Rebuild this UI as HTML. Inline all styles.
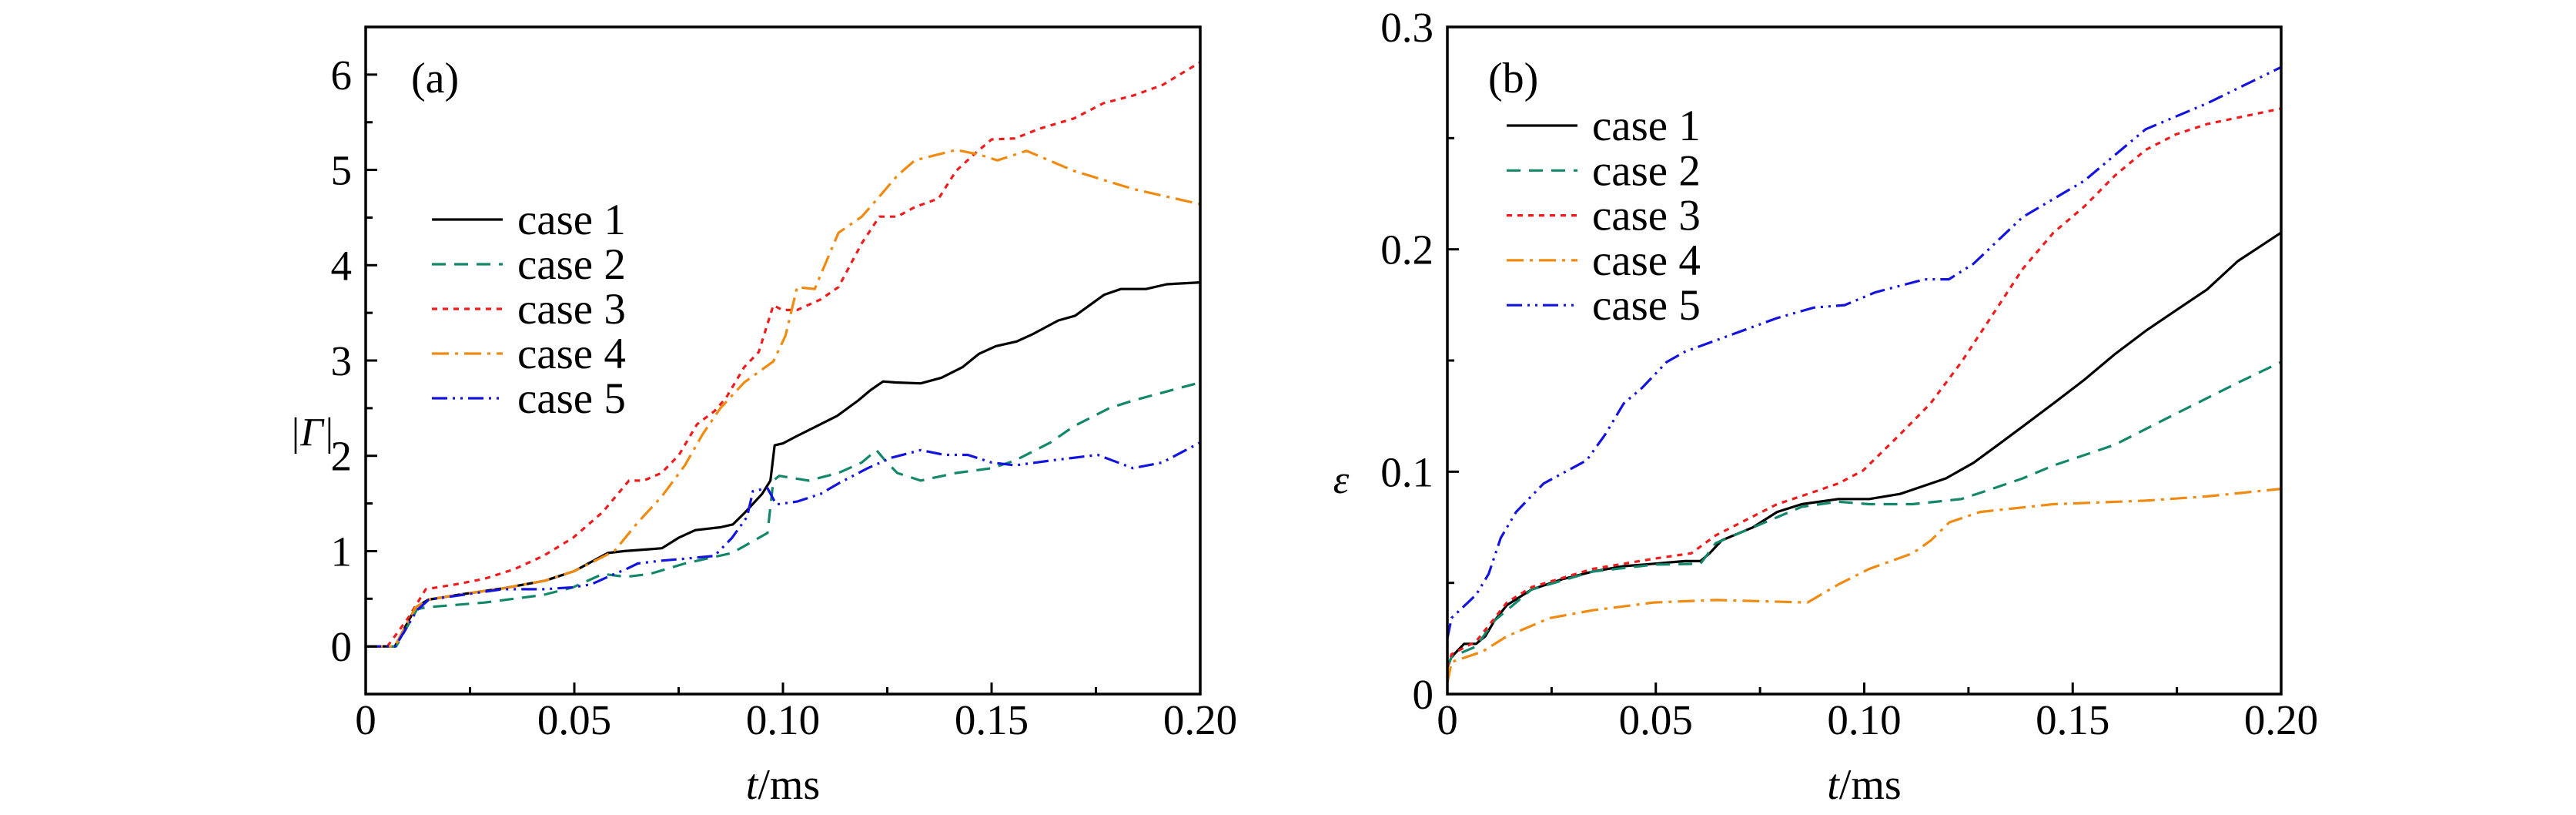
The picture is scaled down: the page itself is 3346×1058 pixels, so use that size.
<!DOCTYPE html>
<html><head><meta charset="utf-8"><style>
html,body{margin:0;padding:0;background:#fff;}
svg text{font-family:"Liberation Serif",serif;fill:#000;}
</style></head><body>
<svg id="chart" width="3346" height="1053" viewBox="0 0 3346 1053" xmlns="http://www.w3.org/2000/svg"></svg>
<script>
// ---- Panel (a) data: |Gamma| vs t ----
const a_case1_t=[0,.007,.012,.015,.022,.033,.043,.05,.058,.062,.068,.071,.075,.079,.085,.088,.091,.095,.097,.098,.1,.103,.108,.113,.118,.121,.124,.127,.133,.138,.143,.147,.151,.156,.16,.166,.17,.177,.181,.187,.192,.2];
const a_case1_v=[0,0,.41,.49,.54,.61,.69,.79,.98,1.0,1.02,1.03,1.14,1.22,1.25,1.28,1.41,1.6,1.74,2.11,2.13,2.2,2.31,2.42,2.58,2.69,2.78,2.77,2.76,2.82,2.93,3.07,3.15,3.2,3.28,3.42,3.47,3.69,3.75,3.75,3.8,3.82];
const a_case2_t=[0,.0073,.0123,.0144,.0285,.0426,.0497,.0568,.0624,.0681,.0765,.0878,.0963,.0977,.0991,.1062,.1133,.1189,.1224,.1245,.1274,.133,.1415,.15,.1556,.1641,.1697,.1782,.1839,.2];
const a_case2_v=[0,0,.39,.41,.46,.54,.62,.76,.73,.76,.87,.98,1.19,1.74,1.79,1.74,1.82,1.93,2.06,1.95,1.82,1.74,1.82,1.87,1.95,2.14,2.31,2.5,2.58,2.77];
const a_case3_t=[0,.0052,.0102,.0144,.0215,.0285,.0356,.0426,.0497,.0568,.061,.0631,.0666,.0709,.0751,.0794,.0836,.0864,.0907,.0942,.0977,.0998,.1034,.109,.1133,.1189,.1231,.1274,.1316,.1373,.1415,.1457,.15,.1556,.1613,.1697,.1768,.1839,.1909,.2];
const a_case3_v=[0,0,.3,.6,.65,.71,.81,.95,1.14,1.41,1.63,1.74,1.74,1.82,2.01,2.33,2.47,2.61,2.93,3.09,3.58,3.53,3.53,3.64,3.77,4.23,4.51,4.51,4.61,4.7,4.99,5.16,5.32,5.33,5.43,5.54,5.7,5.78,5.89,6.13];
const a_case4_t=[0,.007,.012,.015,.022,.033,.043,.05,.0596,.0652,.0709,.0765,.0808,.085,.0907,.0977,.1006,.1034,.1076,.1133,.1189,.1231,.1274,.1316,.1415,.1471,.1514,.1584,.1697,.1839,.2];
const a_case4_v=[0,0,.41,.49,.54,.61,.69,.79,1.0,1.3,1.57,1.9,2.23,2.5,2.77,2.99,3.26,3.77,3.75,4.34,4.51,4.72,4.94,5.1,5.21,5.16,5.1,5.2,4.99,4.8,4.64];
const a_case5_t=[0,.0071,.0123,.0151,.0328,.0426,.0497,.054,.0596,.0624,.0652,.0709,.0765,.0836,.0878,.0914,.0928,.0963,.0984,.1034,.109,.1133,.1203,.126,.133,.1387,.1443,.15,.1556,.1641,.1754,.1839,.1909,.2];
const a_case5_v=[0,0,.38,.49,.6,.6,.62,.65,.76,.81,.87,.9,.92,.95,1.14,1.36,1.63,1.66,1.49,1.52,1.6,1.71,1.87,1.98,2.06,2.01,2.01,1.93,1.9,1.95,2.01,1.87,1.93,2.14];
// ---- Panel (b) data: epsilon vs t ----
const b_case1_t=[0,.001,.004,.0069,.0091,.0113,.0143,.0202,.0275,.0349,.0423,.0496,.057,.0607,.0629,.0658,.0732,.0791,.085,.0938,.1012,.1086,.1196,.1262,.1321,.138,.1454,.1527,.1601,.1675,.1748,.1822,.1896,.2];
const b_case1_v=[.012,.0167,.0226,.0226,.026,.033,.04,.047,.0516,.0551,.0575,.0586,.0598,.0598,.0633,.0691,.0749,.0819,.0854,.0877,.0877,.09,.097,.104,.1121,.1203,.1307,.1412,.1528,.1633,.1726,.1819,.1947,.2075];
const b_case2_t=[0,.001,.0069,.0113,.0202,.0349,.0496,.0607,.0644,.0791,.085,.0938,.1012,.1116,.1233,.1307,.138,.1454,.1601,.1748,.1896,.2];
const b_case2_v=[.012,.0167,.0214,.033,.047,.0551,.0582,.0586,.0679,.0795,.0842,.0865,.0854,.0854,.0877,.0923,.097,.1028,.1121,.1261,.14,.1493];
const b_case3_t=[0,.001,.0069,.0143,.0202,.0349,.0496,.0585,.0644,.0791,.0865,.0938,.0997,.1086,.1159,.1233,.1307,.138,.1454,.1527,.1601,.1675,.1748,.1822,.2];
const b_case3_v=[.012,.0179,.0237,.0412,.0481,.0563,.0609,.0633,.0714,.0854,.09,.0947,.1005,.1168,.1307,.1493,.1703,.1912,.2075,.2191,.2331,.2447,.2517,.2563,.2633];
const b_case4_t=[0,.001,.0084,.0143,.0246,.0349,.0496,.0644,.0864,.0938,.1012,.1116,.116,.1204,.1278,.1454,.1675,.1822,.2];
const b_case4_v=[.005,.0144,.0191,.026,.0342,.0377,.0412,.0423,.0412,.0493,.0563,.0633,.0691,.0772,.0819,.0854,.087,.0889,.0923];
const b_case5_t=[0,.001,.0069,.0099,.0128,.0165,.0231,.0334,.0379,.0423,.0467,.0526,.057,.0673,.0791,.0879,.0953,.1027,.1145,.1203,.1262,.1321,.138,.1527,.1675,.1822,.2];
const b_case5_v=[.025,.0342,.0447,.054,.0702,.0819,.0947,.1051,.1168,.1307,.1377,.1493,.154,.161,.1691,.1738,.1749,.1807,.1865,.1865,.1935,.204,.2145,.2307,.254,.2656,.2819];
// ticks
const xTicks=[0,0.05,0.10,0.15,0.20];
const xTickLabels=["0","0.05","0.10","0.15","0.20"];
const aYTicks=[0,1,2,3,4,5,6];
const aYTickLabels=["0","1","2","3","4","5","6"];
const bYTicks=[0,0.1,0.2,0.3];
const bYTickLabels=["0","0.1","0.2","0.3"];
const caseNames=["case 1","case 2","case 3","case 4","case 5"];

const NS="http://www.w3.org/2000/svg";
const svg=document.getElementById('chart');
function mk(tag,attrs,parent){const e=document.createElementNS(NS,tag);for(const k in attrs)e.setAttribute(k,attrs[k]);(parent||svg).appendChild(e);return e;}
const styles=[
 {stroke:"#000000",dash:""},
 {stroke:"#13876a",dash:"18,11"},
 {stroke:"#ee1c1c",dash:"7,7"},
 {stroke:"#f08a10",dash:"22,8,4,8"},
 {stroke:"#1414e0",dash:"20,7,3,7,3,7"}
];
const T=35,B=901;
function panel(id,L,R,ymin,ymax,yTicks,yLabels,yMinor,series,label,yTitle,yTitleX,yTitleY,legX,legY,legDy,lblX){
  const g=mk('g',{});
  
  
  const xs=t=>L+(t-0)/0.2*(R-L);
  const ys=v=>B-(v-ymin)/(ymax-ymin)*(B-T);
  // clip
  const cp=mk('clipPath',{id:'clip'+id},g);mk('rect',{x:L,y:T,width:R-L,height:B-T},cp);
  // series
  series.forEach((s,i)=>{
    const d=s[0].map((t,j)=>(j?'L':'M')+xs(t).toFixed(1)+','+ys(s[1][j]).toFixed(1)).join('');
    const p=mk('path',{d:d,fill:'none',stroke:styles[i].stroke,'stroke-width':3.2,'stroke-dasharray':styles[i].dash,'clip-path':'url(#clip'+id+')','stroke-linejoin':'round'},g);
    
    
  });
  // frame
  const fr=mk('rect',{x:L,y:T,width:R-L,height:B-T,fill:'none',stroke:'#000','stroke-width':3.5},g);
  
  
  // x ticks
  xTicks.forEach((t,i)=>{
    mk('line',{x1:xs(t),x2:xs(t),y1:B,y2:B-15,stroke:'#000','stroke-width':3},g);
    const tx=mk('text',{x:xs(t),y:953,'font-size':55,'text-anchor':'middle'},g);tx.textContent=xTickLabels[i];
    
    
    if(i<xTicks.length-1){const m=(t+xTicks[i+1])/2;mk('line',{x1:xs(m),x2:xs(m),y1:B,y2:B-9,stroke:'#000','stroke-width':3},g);}
  });
  yTicks.forEach((v,i)=>{
    mk('line',{x1:L,x2:L+15,y1:ys(v),y2:ys(v),stroke:'#000','stroke-width':3},g);
    const tx=mk('text',{x:L-18,y:ys(v)+19,'font-size':55,'text-anchor':'end'},g);tx.textContent=yLabels[i];
    
    
  });
  yMinor.forEach(v=>mk('line',{x1:L,x2:L+9,y1:ys(v),y2:ys(v),stroke:'#000','stroke-width':3},g));
  // x title
  const xt=mk('text',{x:(L+R)/2,y:1037,'font-size':56,'text-anchor':'middle'},g);
  xt.innerHTML='<tspan font-style="italic">t</tspan>/ms';
  
  
  const yt=mk('text',{x:yTitleX,y:yTitleY,'font-size':52,'text-anchor':'middle','font-style':'italic'},g);
  yt.textContent=yTitle;
  
  
  const pl=mk('text',{x:lblX,y:120,'font-size':56},g);pl.textContent=label;
  
  
  // legend
  caseNames.forEach((n,i)=>{
    const y=legY+i*legDy;
    const le=mk('g',{},g);
    
    
    mk('line',{x1:legX,x2:legX+92,y1:y,y2:y,stroke:styles[i].stroke,'stroke-width':3.2,'stroke-dasharray':styles[i].dash},le);
    const t=mk('text',{x:legX+111,y:y+19,'font-size':57},le);t.textContent=n;
  });
}
panel('a',475,1559,-0.5,6.5,aYTicks,aYTickLabels,[-0.5,0.5,1.5,2.5,3.5,4.5,5.5,6.5],
  [[a_case1_t,a_case1_v],[a_case2_t,a_case2_v],[a_case3_t,a_case3_v],[a_case4_t,a_case4_v],[a_case5_t,a_case5_v]],
  '(a)','|Γ|',405,578,561,285,58,534);
panel('b',1880,2963,0,0.3,bYTicks,bYTickLabels,[0.05,0.15,0.25],
  [[b_case1_t,b_case1_v],[b_case2_t,b_case2_v],[b_case3_t,b_case3_v],[b_case4_t,b_case4_v],[b_case5_t,b_case5_v]],
  '(b)','ε',1742,640,1957,163,58.3,1933);
</script>
</body></html>
